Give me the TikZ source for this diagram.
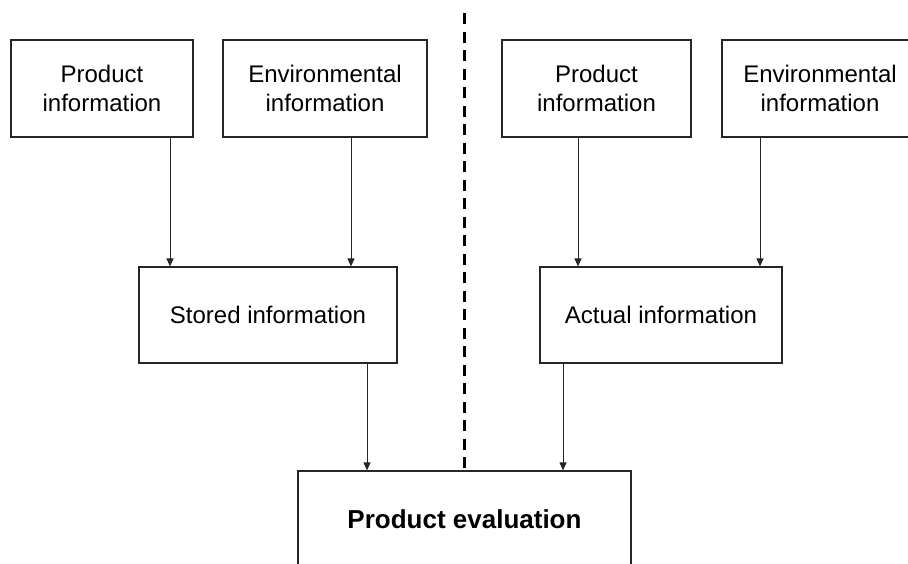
\documentclass[tikz,border=0pt]{standalone}
\usepackage{fontspec}
\setmainfont{Liberation Sans}
\usetikzlibrary{arrows.meta}
\begin{document}
\begin{tikzpicture}[x=1pt,y=-1pt,
  box/.style={draw=black!85,line width=1.2pt,rectangle,align=center,inner sep=0pt,
    font=\fontsize{24}{29}\selectfont},
  arr/.style={draw=black!85,line width=1pt,-{Triangle[length=8pt,width=7pt]}},
  divider/.style={draw=black,line width=3.5pt,dash pattern=on 11pt off 7.5pt}]
\useasboundingbox (0,0) rectangle (908,563);
\clip (0,0) rectangle (908,563);
\node[box,minimum width=182pt,minimum height=97pt] (p1) at (102,88.5) {Product\\information};
\node[box,minimum width=204pt,minimum height=97pt] (e1) at (325,88.5) {Environmental\\information};
\node[box,minimum width=189pt,minimum height=97pt] (p2) at (596.5,88.5) {Product\\information};
\node[box,minimum width=196pt,minimum height=97pt] (e2) at (820,88.5) {Environmental\\information};
\node[box,minimum width=258pt,minimum height=96pt] (st) at (268,315) {Stored information};
\node[box,minimum width=242pt,minimum height=96pt] (ac) at (661,315) {Actual information};
\node[box,minimum width=333pt,minimum height=96pt,font=\fontsize{26}{30}\selectfont\bfseries] (ev) at (464.5,519) {Product evaluation};
\coordinate (x1) at (170,0);
\coordinate (x2) at (351,0);
\coordinate (x3) at (578,0);
\coordinate (x4) at (760,0);
\coordinate (x5) at (367,0);
\coordinate (x6) at (563,0);
\coordinate (top) at (464.5,13);
\draw[arr] ([yshift=2pt]p1.south -| x1) -- (st.north -| x1);
\draw[arr] ([yshift=2pt]e1.south -| x2) -- (st.north -| x2);
\draw[arr] ([yshift=2pt]p2.south -| x3) -- (ac.north -| x3);
\draw[arr] ([yshift=2pt]e2.south -| x4) -- (ac.north -| x4);
\draw[arr] ([yshift=2pt]st.south -| x5) -- (ev.north -| x5);
\draw[arr] ([yshift=2pt]ac.south -| x6) -- (ev.north -| x6);
\draw[divider] (top) -- (ev.north);
\end{tikzpicture}
\end{document}
